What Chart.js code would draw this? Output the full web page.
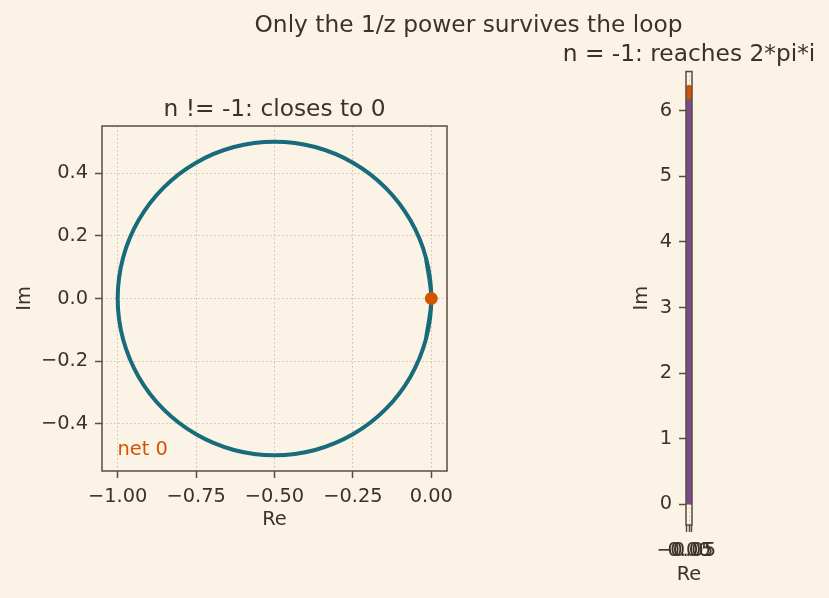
<!DOCTYPE html>
<html>
<head>
<meta charset="utf-8">
<script src="https://cdn.jsdelivr.net/npm/chart.js@4.4.1/dist/chart.umd.min.js"></script>
<style>
  html, body { margin: 0; padding: 0; background: #fbf3e5; }
  #wrap { position: relative; width: 829px; height: 598px; }
  canvas { position: absolute; left: 0; top: 0; }
</style>
</head>
<body>
<div id="wrap">
  <canvas id="loopChart" width="829" height="598"></canvas>
  <canvas id="residueChart" width="829" height="598"></canvas>
</div>
<script>
// running integral for n = 1, sampled every 15 degrees (wraps a little past the start)
const loopRe = [-0.017, 0, -0.017, -0.067, -0.1464, -0.25, -0.3706, -0.5, -0.6294, -0.75, -0.8536, -0.933, -0.983, -1,
                -0.983, -0.933, -0.8536, -0.75, -0.6294, -0.5, -0.3706, -0.25, -0.1464, -0.067, -0.017, 0, -0.017];
const loopIm = [-0.1294, 0, 0.1294, 0.25, 0.3536, 0.433, 0.483, 0.5, 0.483, 0.433, 0.3536, 0.25, 0.1294, 0,
                -0.1294, -0.25, -0.3536, -0.433, -0.483, -0.5, -0.483, -0.433, -0.3536, -0.25, -0.1294, 0, 0.1294];
const loopEndRe = [0];
const loopEndIm = [0];

// n = -1: running integral goes straight up to 2*pi*i
const residueRe = [0, 0];
const residueIm = [0, 6.2832];
const residueEndRe = [0];
const residueEndIm = [6.2832];

const leftXTicks = [-1, -0.75, -0.5, -0.25, 0];
const leftYTicks = [-0.4, -0.2, 0, 0.2, 0.4];
const rightXTicks = [-0.05, 0, 0.05];
const rightYTicks = [0, 1, 2, 3, 4, 5, 6];

const INK = '#3d3229';
const SPINE = '#5a4d3e';
const GRID = '#c9c1b1';
const TEAL = '#176b7a';
const ORANGE = '#d35400';
const PURPLE = '#7b4b8e';
const FONT = "'DejaVu Sans', sans-serif";

Chart.defaults.font.family = FONT;
Chart.defaults.color = INK;

function pts(xs, ys) {
    return xs.map((x, i) => ({ x: x, y: ys[i] }));
}

function fmt(v, d) {
    const s = Math.abs(v).toFixed(d);
    return (v < -1e-9 ? '\u2212' : '') + s;
}

function axis(min, max, tickList, decimals, size, title, titlePad) {
    return {
        type: 'linear',
        min: min,
        max: max,
        afterBuildTicks: (s) => { s.ticks = tickList.map(v => ({ value: v })); },
        afterFit: (s) => { if (s.isHorizontal()) s.height = size; else s.width = size; },
        ticks: {
            autoSkip: false,
            maxRotation: 0,
            padding: 7,
            color: INK,
            font: { size: 19.4 },
            callback: (v) => fmt(v, decimals)
        },
        grid: {
            color: GRID,
            lineWidth: 1,
            tickLength: 7,
            tickColor: SPINE,
            tickWidth: 1.5
        },
        border: { display: false, dash: [1.5, 2.5] },
        title: {
            display: !!title,
            text: title || '',
            color: INK,
            font: { size: 19.4 },
            padding: titlePad || 0
        }
    };
}

// four spines, titles and free text
const framePlugin = {
    id: 'frame',
    afterDraw(chart, args, opts) {
        const ctx = chart.ctx;
        const a = chart.chartArea;
        ctx.save();
        ctx.strokeStyle = SPINE;
        ctx.lineWidth = 1.5;
        ctx.strokeRect(a.left, a.top, a.right - a.left, a.bottom - a.top);
        ctx.textBaseline = 'alphabetic';
        (opts.texts || []).forEach(t => {
            ctx.font = t.size + 'px ' + FONT;
            ctx.fillStyle = t.color || INK;
            ctx.textAlign = t.align || 'center';
            ctx.fillText(t.text, t.x, t.y);
        });
        ctx.restore();
    }
};

new Chart(document.getElementById('loopChart'), {
    type: 'scatter',
    data: {
        datasets: [
            {
                data: pts(loopEndRe, loopEndIm),
                pointRadius: 6.5,
                pointBackgroundColor: ORANGE,
                pointBorderWidth: 0,
                showLine: false
            },
            {
                data: pts(loopRe, loopIm),
                showLine: true,
                borderColor: TEAL,
                borderWidth: 4,
                pointRadius: 0,
                tension: 0.34
            }
        ]
    },
    options: {
        responsive: false,
        animation: false,
        devicePixelRatio: 1,
        layout: { padding: { left: 0, top: 126, right: 382, bottom: 57 } },
        scales: {
            x: axis(-1.05, 0.05, leftXTicks, 2, 70, 'Re', { top: 0, bottom: 9 }),
            y: axis(-0.55, 0.55, leftYTicks, 1, 102, 'Im', { top: 13, bottom: 0 })
        },
        plugins: {
            legend: { display: false },
            tooltip: { enabled: false },
            frame: {
                texts: [
                    { text: 'Only the 1/z power survives the loop', x: 468.5, y: 32, size: 23.3 },
                    { text: 'n != -1: closes to 0', x: 274.5, y: 116, size: 23.3 },
                    { text: 'net 0', x: 117.5, y: 455, size: 19.4, color: ORANGE, align: 'left' }
                ]
            }
        }
    },
    plugins: [framePlugin]
});

new Chart(document.getElementById('residueChart'), {
    type: 'scatter',
    data: {
        datasets: [
            {
                data: pts(residueEndRe, residueEndIm),
                pointRadius: 7,
                pointBackgroundColor: ORANGE,
                pointBorderWidth: 0,
                showLine: false
            },
            {
                data: pts(residueRe, residueIm),
                showLine: true,
                borderColor: PURPLE,
                borderWidth: 6,
                borderCapStyle: 'butt',
                pointRadius: 0
            }
        ]
    },
    options: {
        responsive: false,
        animation: false,
        devicePixelRatio: 1,
        layout: { padding: { left: 626, top: 71.5, right: 137, bottom: 3 } },
        scales: {
            // the axis is only a few pixels wide, so its title is drawn by the frame plugin
            x: axis(-0.055, 0.055, rightXTicks, 2, 70, null, null),
            y: axis(-0.314, 6.597, rightYTicks, 0, 60, 'Im', { top: 4.4, bottom: 0 })
        },
        plugins: {
            legend: { display: false },
            tooltip: { enabled: false },
            frame: {
                texts: [
                    { text: 'n = -1: reaches 2*pi*i', x: 689, y: 61, size: 23.3 },
                    { text: 'Re', x: 689, y: 580, size: 19.4 }
                ]
            }
        }
    },
    plugins: [framePlugin]
});
</script>
</body>
</html>
